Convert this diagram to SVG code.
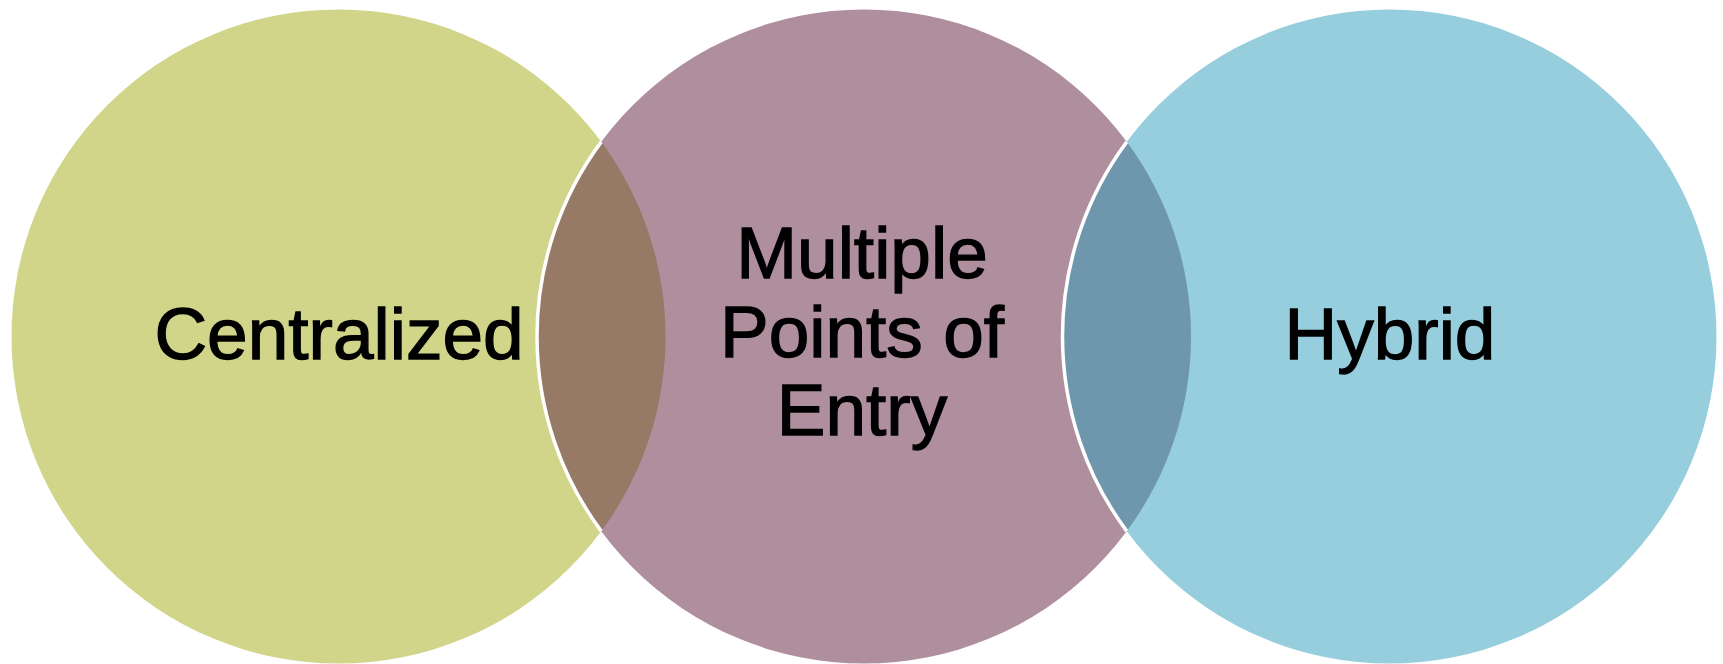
<svg xmlns="http://www.w3.org/2000/svg" width="1723" height="664" viewBox="0 0 1723 664">
<style>
.lbl{font-family:"Liberation Sans",Arial,sans-serif;font-size:73px;fill:#000;stroke:#000;stroke-width:1.3;text-anchor:middle}
.edge{fill:none;stroke:#fff;stroke-width:3.5}
</style>
<rect width="1723" height="664" fill="#fff"/>
<g id="node-centralized">
<circle cx="338.5" cy="336.5" r="327" fill="#d1d58a"/>
</g>
<g id="node-multiple">
<circle cx="864" cy="336.5" r="327" fill="#af8f9e"/>
</g>
<g id="node-hybrid">
<circle cx="1389.5" cy="336.5" r="327" fill="#97cede"/>
</g>
<g id="overlaps">
<path d="M601.25 141.84 A327 327 0 0 1 601.25 531.16 A327 327 0 0 1 601.25 141.84 Z" fill="#977a65"/>
<path d="M1126.75 141.84 A327 327 0 0 1 1126.75 531.16 A327 327 0 0 1 1126.75 141.84 Z" fill="#6e97ae"/>
<path class="edge" d="M601.25 141.84 A327 327 0 0 0 601.25 531.16"/>
<path class="edge" d="M1126.75 141.84 A327 327 0 0 0 1126.75 531.16"/>
</g>
<g id="labels">
<text class="lbl" x="339" y="359">Centralized</text>
<text class="lbl" x="862" y="278">Multiple</text>
<text class="lbl" x="862" y="357">Points of</text>
<text class="lbl" x="862" y="435">Entry</text>
<text class="lbl" x="1390" y="359">Hybrid</text>
</g>
</svg>
